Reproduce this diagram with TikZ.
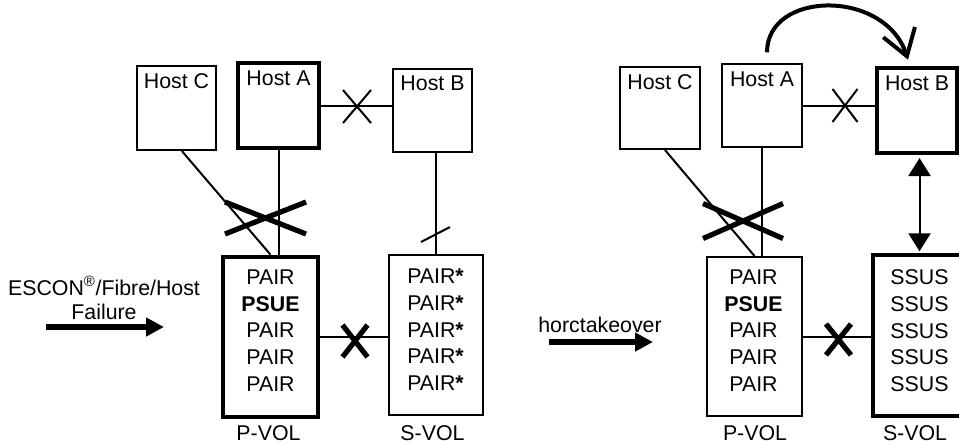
\documentclass[tikz,border=0pt]{standalone}
\usepackage{fontspec}
\setmainfont{Liberation Sans}
\usetikzlibrary{arrows.meta}
\begin{document}
\begin{tikzpicture}[x=0.75pt,y=-0.75pt,
  every node/.style={font=\fontsize{16}{20}\selectfont},
  hostbox/.style={draw, line width=1.5pt, inner sep=0pt},
  boldbox/.style={line width=3.5pt},
  volbox/.style={draw, line width=1.5pt, inner sep=0pt},
  voltext/.style={align=center, inner sep=0pt, anchor=north},
  hosttext/.style={anchor=center, inner sep=0pt, yshift=-12pt},
  boldhosttext/.style={anchor=center, inner sep=0pt, yshift=-13.5pt},
  plaintext/.style={inner sep=0pt},
  link/.style={line width=1.5pt},
  xthin/.style={line width=1.5pt},
  xthick/.style={line width=3.9pt},
  fatarrow/.style={line width=4.5pt, -{Triangle[length=13.5pt,width=13.5pt]}},
  dblarrow/.style={line width=1.5pt, {Triangle[length=13.5pt,width=16.5pt]}-{Triangle[length=13.5pt,width=16.5pt]}},
  movearrow/.style={line width=3pt, -{Straight Barb[length=19pt,width=25pt]}},
]
\useasboundingbox (0,0) rectangle (959,444);

% ---------------- left scene ----------------
\node[hostbox, minimum width=59.25pt, minimum height=63pt,
      label={[hosttext]north:Host C}] (hostCL) at (176.5,108) {};
\node[hostbox, boldbox, minimum width=60.75pt, minimum height=63.75pt,
      label={[boldhosttext]north:Host A}] (hostAL) at (278.5,105.5) {};
\node[hostbox, minimum width=59.25pt, minimum height=62.25pt,
      label={[hosttext]north:Host B}] (hostBL) at (432.5,110) {};

\node[volbox, boldbox, minimum width=71.25pt, minimum height=120pt] (pvolL) at (270.5,337) {};
\node[volbox, minimum width=70.5pt, minimum height=120pt] (svolL) at (436,335) {};

\node[voltext] (pvolLtext) at (270.5,269.6) {PAIR\\\textbf{PSUE}\\PAIR\\PAIR\\PAIR};
\node[voltext] (svolLtext) at (435.5,269) {PAIR\textbf{*}\\PAIR\textbf{*}\\PAIR\textbf{*}\\PAIR\textbf{*}\\PAIR\textbf{*}};
\node[plaintext] (plabL) at (268.5,433) {P-VOL};
\node[plaintext] (slabL) at (432.5,433) {S-VOL};

\draw[link] ([xshift=4pt]hostCL.south) -- (pvolL.north);
\draw[link] (hostAL.south) -- (hostAL.south |- pvolL.north);
\draw[link] (hostAL.east) -- (hostAL.east -| hostBL.west);
\draw[link] (svolL.north |- hostBL.south) -- (svolL.north);
\draw[link] (pvolL.east) -- (pvolL.east -| svolL.west);

\coordinate (xABL) at (357,106.5);
\draw[xthin] (xABL) ++(-14,-16.5) -- ++(28,33) (xABL) ++(14,-16.5) -- ++(-28,33);
\coordinate (xHostL) at (265.5,218);
\draw[xthick] (xHostL) ++(-40.5,-16) -- ++(81,32) (xHostL) ++(40.5,-16) -- ++(-81,32);
\coordinate (slashL) at (435.5,234.5);
\draw[xthin] (slashL) ++(-14.5,7.5) -- ++(29,-15);
\coordinate (xVolL) at (355,341);
\draw[xthick] (xVolL) ++(-12.5,-16) -- ++(25,32) (xVolL) ++(12.5,-16) -- ++(-25,32);

\node[plaintext, align=center, anchor=north, font=\fontsize{16}{18}\selectfont] (esctext) at (104,276)
  {ESCON\textsuperscript{®}/Fibre/Host\\Failure};
\coordinate (escA) at (46,327);
\coordinate (escB) at (164,327);
\draw[fatarrow] (escA) -- (escB);

% ---------------- right scene ----------------
\node[plaintext, anchor=base] (horctext) at (600,332) {horctakeover};
\coordinate (horcA) at (549,342);
\coordinate (horcB) at (653,342);
\draw[fatarrow] (horcA) -- (horcB);

\node[hostbox, minimum width=60pt, minimum height=61.5pt,
      label={[hosttext]north:Host C}] (hostCR) at (660,108) {};
\node[hostbox, minimum width=60pt, minimum height=62.25pt,
      label={[hosttext]north:Host A}] (hostAR) at (762,105.5) {};
\node[hostbox, boldbox, minimum width=60pt, minimum height=63.75pt,
      label={[boldhosttext]north:Host B}] (hostBR) at (917,110.5) {};

\node[volbox, minimum width=71.25pt, minimum height=119.25pt] (pvolR) at (754.5,336.5) {};
\node[volbox, boldbox, minimum width=69.75pt, minimum height=120.75pt] (svolR) at (919.5,335.5) {};

\node[voltext] (pvolRtext) at (753.5,269.6) {PAIR\\\textbf{PSUE}\\PAIR\\PAIR\\PAIR};
\node[voltext] (svolRtext) at (919.5,269.6) {SSUS\\SSUS\\SSUS\\SSUS\\SSUS};
\node[plaintext] (plabR) at (755,433) {P-VOL};
\node[plaintext] (slabR) at (915,433) {S-VOL};

\draw[link] ([xshift=3.75pt]hostCR.south) -- (pvolR.north);
\draw[link] (hostAR.south) -- (hostAR.south |- pvolR.north);
\draw[link] (hostAR.east) -- (hostAR.east -| hostBR.west);
\draw[link] (pvolR.east) -- (pvolR.east -| svolR.west);
\draw[dblarrow, shorten <=2pt, shorten >=1pt] (svolR.north |- hostBR.south) -- (svolR.north);

\draw[movearrow] ([xshift=3.75pt,yshift=8pt]hostAR.north)
  .. controls +(0,-62) and +(-23,-71) .. ([xshift=-6.75pt,yshift=4.5pt]hostBR.north);

\coordinate (xABR) at (845,105.5);
\draw[xthin] (xABR) ++(-12.5,-16.5) -- ++(25,33) (xABR) ++(12.5,-16.5) -- ++(-25,33);
\coordinate (xHostR) at (743,221);
\draw[xthick] (xHostR) ++(-40,-17.5) -- ++(80,35) (xHostR) ++(40,-17.5) -- ++(-80,35);
\coordinate (xVolR) at (838.5,339.5);
\draw[xthick] (xVolR) ++(-12.5,-15.5) -- ++(25,31) (xVolR) ++(12.5,-15.5) -- ++(-25,31);
\end{tikzpicture}
\end{document}
